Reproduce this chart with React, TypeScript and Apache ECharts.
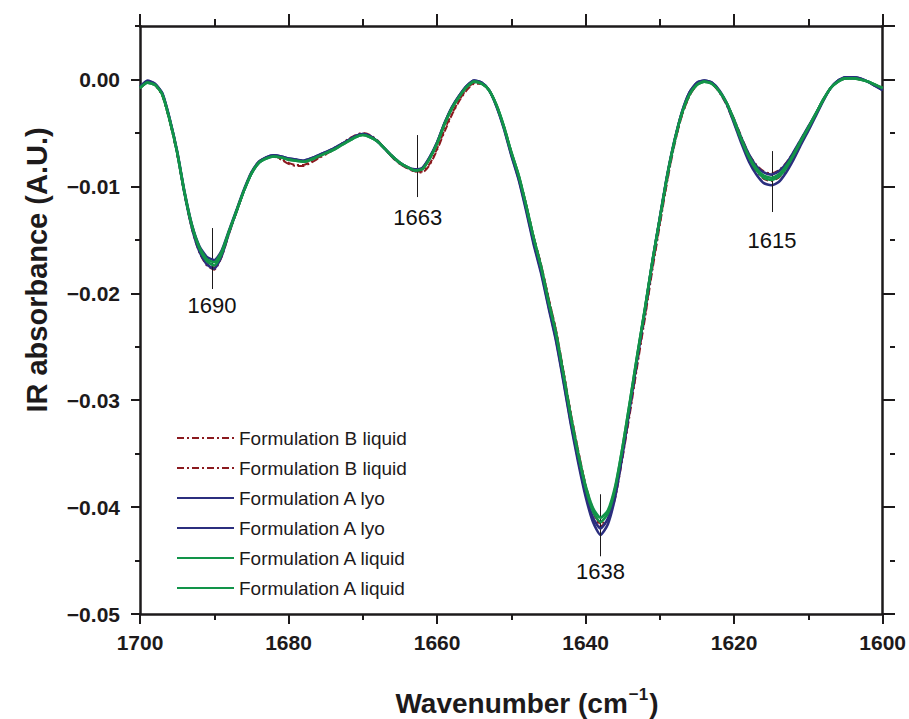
import React, { useEffect, useRef } from "react";
import * as echarts from "echarts";

const WAVENUMBERS = [
  1700, 1699, 1698, 1697, 1696, 1695, 1694, 1693, 1692, 1691,
  1690, 1689, 1688, 1687, 1686, 1685, 1684, 1683, 1682, 1681,
  1680, 1679, 1678, 1677, 1676, 1675, 1674, 1673, 1672, 1671,
  1670, 1669, 1668, 1667, 1666, 1665, 1664, 1663, 1662, 1661,
  1660, 1659, 1658, 1657, 1656, 1655, 1654, 1653, 1652, 1651,
  1650, 1649, 1648, 1647, 1646, 1645, 1644, 1643, 1642, 1641,
  1640, 1639, 1638, 1637, 1636, 1635, 1634, 1633, 1632, 1631,
  1630, 1629, 1628, 1627, 1626, 1625, 1624, 1623, 1622, 1621,
  1620, 1619, 1618, 1617, 1616, 1615, 1614, 1613, 1612, 1611,
  1610, 1609, 1608, 1607, 1606, 1605, 1604, 1603, 1602, 1601,
  1600,
];

const B_LIQUID_1 = [
  -0.0008, -0.0003, -0.0005, -0.0015, -0.0039, -0.007, -0.0108, -0.014, -0.0162, -0.0174,
  -0.0178, -0.0166, -0.0144, -0.0124, -0.0104, -0.0087, -0.0077, -0.0073, -0.0072, -0.0075,
  -0.0079, -0.0081, -0.0081, -0.0078, -0.0074, -0.007, -0.0066, -0.0061, -0.0056, -0.0052,
  -0.005, -0.0052, -0.0057, -0.0065, -0.0073, -0.0079, -0.0083, -0.0086, -0.0087, -0.008,
  -0.0066, -0.0049, -0.0033, -0.002, -0.001, -0.0004, -0.0004, -0.001, -0.0024, -0.0044,
  -0.0068, -0.009, -0.0117, -0.0147, -0.0173, -0.0204, -0.0234, -0.0272, -0.0312, -0.0347,
  -0.038, -0.0404, -0.0418, -0.0413, -0.0391, -0.0353, -0.0311, -0.0266, -0.0223, -0.0178,
  -0.0136, -0.0095, -0.006, -0.0033, -0.0015, -0.0005, -0.0002, -0.0004, -0.0011, -0.0022,
  -0.0037, -0.0054, -0.007, -0.008, -0.0086, -0.0088, -0.0085, -0.0078, -0.0068, -0.0056,
  -0.0044, -0.0032, -0.0019, -0.0008, -0.0002, 0.0001, 0.0001, 0.0, -0.0002, -0.0005,
  -0.0008,
];

const B_LIQUID_2 = [
  -0.0008, -0.0003, -0.0005, -0.0015, -0.0039, -0.0069, -0.0107, -0.0139, -0.016, -0.0172,
  -0.0176, -0.0165, -0.0143, -0.0124, -0.0104, -0.0087, -0.0077, -0.0073, -0.0072, -0.0074,
  -0.0078, -0.008, -0.008, -0.0077, -0.0073, -0.007, -0.0066, -0.0061, -0.0057, -0.0053,
  -0.0051, -0.0053, -0.0058, -0.0065, -0.0073, -0.0079, -0.0083, -0.0086, -0.0086, -0.0079,
  -0.0065, -0.0047, -0.0032, -0.0019, -0.0009, -0.0003, -0.0004, -0.001, -0.0024, -0.0044,
  -0.0068, -0.009, -0.0117, -0.0147, -0.0173, -0.0204, -0.0234, -0.0272, -0.0312, -0.0347,
  -0.0379, -0.0402, -0.0416, -0.0411, -0.0389, -0.0351, -0.0309, -0.0264, -0.0221, -0.0176,
  -0.0134, -0.0094, -0.0059, -0.0033, -0.0015, -0.0005, -0.0002, -0.0004, -0.0012, -0.0024,
  -0.0041, -0.0059, -0.0075, -0.0086, -0.0093, -0.0095, -0.0092, -0.0084, -0.0072, -0.0059,
  -0.0046, -0.0033, -0.002, -0.0008, -0.0002, 0.0001, 0.0001, 0.0, -0.0002, -0.0005,
  -0.0008,
];

const A_LYO_1 = [
  -0.0007, -0.0001, -0.0004, -0.0013, -0.0037, -0.0068, -0.0107, -0.0139, -0.0161, -0.0173,
  -0.0177, -0.0165, -0.0143, -0.0123, -0.0104, -0.0088, -0.0078, -0.0073, -0.0071, -0.0072,
  -0.0074, -0.0075, -0.0076, -0.0074, -0.0071, -0.0068, -0.0065, -0.0061, -0.0057, -0.0053,
  -0.0051, -0.0053, -0.0058, -0.0065, -0.0072, -0.0078, -0.0082, -0.0085, -0.0083, -0.0073,
  -0.0059, -0.0041, -0.0026, -0.0015, -0.0006, -0.0001, -0.0003, -0.001, -0.0025, -0.0046,
  -0.0071, -0.0094, -0.0123, -0.0154, -0.0181, -0.0213, -0.0244, -0.0282, -0.0322, -0.0358,
  -0.039, -0.0414, -0.0426, -0.0416, -0.039, -0.035, -0.0305, -0.0259, -0.0216, -0.0171,
  -0.013, -0.009, -0.0057, -0.003, -0.0012, -0.0003, -0.0001, -0.0003, -0.0011, -0.0023,
  -0.0041, -0.006, -0.0077, -0.0089, -0.0097, -0.0099, -0.0096, -0.0087, -0.0075, -0.0061,
  -0.0048, -0.0034, -0.002, -0.0008, -0.0001, 0.0002, 0.0002, 0.0001, -0.0002, -0.0006,
  -0.001,
];

const A_LYO_2 = [
  -0.0007, -0.0002, -0.0004, -0.0013, -0.0037, -0.0067, -0.0105, -0.0136, -0.0156, -0.0166,
  -0.0169, -0.016, -0.0141, -0.0122, -0.0103, -0.0087, -0.0077, -0.0073, -0.0071, -0.0072,
  -0.0074, -0.0075, -0.0076, -0.0074, -0.0071, -0.0068, -0.0065, -0.0061, -0.0057, -0.0053,
  -0.0051, -0.0053, -0.0058, -0.0065, -0.0072, -0.0078, -0.0082, -0.0084, -0.0083, -0.0073,
  -0.0059, -0.0041, -0.0026, -0.0015, -0.0006, -0.0001, -0.0003, -0.001, -0.0025, -0.0045,
  -0.007, -0.0093, -0.0121, -0.0152, -0.0179, -0.0211, -0.0242, -0.028, -0.032, -0.0355,
  -0.0387, -0.041, -0.042, -0.0411, -0.0386, -0.0347, -0.0303, -0.0258, -0.0215, -0.017,
  -0.0129, -0.0089, -0.0056, -0.003, -0.0012, -0.0003, -0.0001, -0.0003, -0.001, -0.0022,
  -0.0038, -0.0055, -0.007, -0.0081, -0.0087, -0.0089, -0.0086, -0.0079, -0.0068, -0.0056,
  -0.0044, -0.0032, -0.0019, -0.0008, -0.0001, 0.0002, 0.0002, 0.0001, -0.0002, -0.0006,
  -0.001,
];

const A_LIQUID_1 = [
  -0.0008, -0.0003, -0.0005, -0.0014, -0.0038, -0.0068, -0.0106, -0.0137, -0.0158, -0.017,
  -0.0174, -0.0163, -0.0142, -0.0123, -0.0104, -0.0088, -0.0078, -0.0074, -0.0072, -0.0073,
  -0.0075, -0.0076, -0.0077, -0.0075, -0.0072, -0.0069, -0.0066, -0.0062, -0.0058, -0.0054,
  -0.0052, -0.0054, -0.0058, -0.0065, -0.0072, -0.0078, -0.0082, -0.0085, -0.0084, -0.0074,
  -0.006, -0.0042, -0.0027, -0.0016, -0.0007, -0.0002, -0.0004, -0.001, -0.0024, -0.0044,
  -0.0068, -0.009, -0.0118, -0.0148, -0.0175, -0.0207, -0.0237, -0.0275, -0.0315, -0.035,
  -0.0382, -0.0404, -0.0414, -0.0406, -0.0382, -0.0343, -0.03, -0.0256, -0.0214, -0.017,
  -0.013, -0.009, -0.0057, -0.0031, -0.0014, -0.0005, -0.0002, -0.0004, -0.0011, -0.0022,
  -0.0038, -0.0056, -0.0072, -0.0083, -0.009, -0.0092, -0.0089, -0.0081, -0.007, -0.0057,
  -0.0045, -0.0032, -0.0019, -0.0008, -0.0002, 0.0001, 0.0001, 0.0, -0.0002, -0.0005,
  -0.0008,
];

const A_LIQUID_2 = [
  -0.0008, -0.0003, -0.0005, -0.0014, -0.0038, -0.0068, -0.0106, -0.0137, -0.0157, -0.0168,
  -0.0171, -0.0161, -0.0142, -0.0123, -0.0104, -0.0088, -0.0078, -0.0074, -0.0072, -0.0073,
  -0.0075, -0.0076, -0.0077, -0.0075, -0.0072, -0.0069, -0.0066, -0.0062, -0.0058, -0.0054,
  -0.0052, -0.0054, -0.0058, -0.0065, -0.0072, -0.0078, -0.0082, -0.0085, -0.0084, -0.0074,
  -0.006, -0.0042, -0.0027, -0.0016, -0.0007, -0.0002, -0.0004, -0.001, -0.0024, -0.0044,
  -0.0068, -0.009, -0.0118, -0.0148, -0.0175, -0.0207, -0.0237, -0.0275, -0.0315, -0.035,
  -0.038, -0.0401, -0.041, -0.0403, -0.038, -0.0343, -0.03, -0.0256, -0.0214, -0.017,
  -0.013, -0.009, -0.0057, -0.0031, -0.0014, -0.0005, -0.0002, -0.0004, -0.0011, -0.0022,
  -0.0039, -0.0057, -0.0073, -0.0085, -0.0092, -0.0094, -0.0091, -0.0083, -0.0071, -0.0058,
  -0.0045, -0.0032, -0.0019, -0.0008, -0.0002, 0.0001, 0.0001, 0.0, -0.0002, -0.0005,
  -0.0008,
];

const SERIES_KEYS = ["B1", "B2", "L1", "L2", "G1", "G2"];
const SERIES_LABELS = [
  "Formulation B liquid",
  "Formulation B liquid",
  "Formulation A lyo",
  "Formulation A lyo",
  "Formulation A liquid",
  "Formulation A liquid",
];
const SERIES_VALUES = [B_LIQUID_1, B_LIQUID_2, A_LYO_1, A_LYO_2, A_LIQUID_1, A_LIQUID_2];

// peak annotations
const PEAK_LABELS = ["1690", "1663", "1638", "1615"];
const PEAK_POS = [1690.3, 1662.6, 1638.0, 1614.9];
const PEAK_LINE_TOP = [-0.0139, -0.0052, -0.0388, -0.0067];
const PEAK_LINE_BOTTOM = [-0.0196, -0.011, -0.0446, -0.0124];
const PEAK_LABEL_Y = [-0.0211, -0.0129, -0.046, -0.0151];

const X_TICK_MIN = 1600;
const X_TICK_MAX = 1700;
const Y_TICK_MIN = -0.05;
const Y_TICK_MAX = 0.005;

const COLORS = ["#8b1a1f", "#8b1a1f", "#2b2e7e", "#2b2e7e", "#129449", "#129449"];
const FONT = "'Liberation Sans', Arial, Helvetica, sans-serif";
const INK = "#1d1a1b";

export default function App() {
  const ref = useRef<HTMLDivElement>(null);

  useEffect(() => {
    if (!ref.current) return;
    const chart = echarts.init(ref.current, undefined, { renderer: "svg" });

    const gridBox = { left: 140, right: 19, top: 26, bottom: 105 };
    const axisLine = { show: true, onZero: false, lineStyle: { color: INK, width: 2.5 } };

    const series: any[] = SERIES_KEYS.map((key, i) => ({
      name: key,
      type: "line",
      xAxisIndex: 0,
      yAxisIndex: 0,
      showSymbol: false,
      symbol: "none",
      smooth: 0.2,
      lineStyle: {
        color: COLORS[i],
        width: i < 2 ? 2 : 2.6,
        type: i < 2 ? [7, 3, 2, 3] : "solid",
      },
      itemStyle: { color: COLORS[i] },
      data: WAVENUMBERS.map((w, j) => [w, SERIES_VALUES[i][j]]),
      z: 2 + i,
    }));

    series[5].markLine = {
      silent: true,
      symbol: ["none", "none"],
      label: { show: false },
      lineStyle: { color: INK, width: 1, type: "solid" },
      data: PEAK_POS.map((p, k) => [
        { coord: [p, PEAK_LINE_TOP[k]] },
        { coord: [p, PEAK_LINE_BOTTOM[k]] },
      ]),
    };

    series.push({
      name: "peaks",
      type: "scatter",
      xAxisIndex: 0,
      yAxisIndex: 0,
      symbolSize: 1,
      itemStyle: { color: "rgba(0,0,0,0)" },
      silent: true,
      z: 10,
      label: {
        show: true,
        position: "inside",
        formatter: (p: any) => PEAK_LABELS[p.dataIndex],
        fontSize: 22,
        fontFamily: FONT,
        color: "#111111",
        opacity: 1,
      },
      data: PEAK_POS.map((p, k) => [p, PEAK_LABEL_Y[k]]),
    });

    const labelMap: Record<string, string> = {};
    SERIES_KEYS.forEach((k, i) => (labelMap[k] = SERIES_LABELS[i]));

    const yFmt = (v: number) => {
      if (v > 0.0001) return "";
      if (Math.abs(v) < 1e-9) return "0.00";
      return "\u2212" + Math.abs(v).toFixed(2);
    };

    const option: any = {
      animation: false,
      backgroundColor: "#ffffff",
      grid: [
        { ...gridBox, containLabel: false },
        { ...gridBox, containLabel: false },
      ],
      legend: {
        orient: "vertical",
        left: 176,
        top: 428,
        padding: 0,
        itemWidth: 57,
        itemHeight: 14,
        itemGap: 10,
        data: SERIES_KEYS,
        formatter: (name: string) => labelMap[name],
        itemStyle: { opacity: 0, borderWidth: 0 },
        textStyle: { fontSize: 19, lineHeight: 20, color: INK, fontFamily: FONT },
      },
      xAxis: [
        {
          type: "value",
          gridIndex: 0,
          position: "bottom",
          min: X_TICK_MIN,
          max: X_TICK_MAX,
          interval: 20,
          inverse: true,
          axisLine,
          axisTick: { show: true, inside: false, length: 10, lineStyle: { color: INK, width: 2 } },
          minorTick: { show: true, splitNumber: 2, length: 6, lineStyle: { color: INK, width: 2 } },
          axisLabel: {
            margin: 18,
            fontSize: 21,
            fontWeight: "bold",
            color: INK,
            fontFamily: FONT,
            formatter: (v: number) => String(v),
          },
          splitLine: { show: false },
          minorSplitLine: { show: false },
        },
        {
          type: "value",
          gridIndex: 0,
          position: "top",
          min: X_TICK_MIN,
          max: X_TICK_MAX,
          interval: 20,
          inverse: true,
          axisLine,
          axisTick: { show: true, inside: false, length: 12, lineStyle: { color: INK, width: 2 } },
          minorTick: { show: true, splitNumber: 2, length: 7, lineStyle: { color: INK, width: 2 } },
          axisLabel: { show: false },
          splitLine: { show: false },
        },
        {
          type: "value",
          gridIndex: 1,
          min: X_TICK_MIN,
          max: X_TICK_MAX,
          inverse: true,
          show: false,
        },
      ],
      yAxis: [
        {
          type: "value",
          gridIndex: 0,
          position: "left",
          min: Y_TICK_MIN,
          max: Y_TICK_MAX,
          interval: 0.01,
          axisLine,
          axisTick: { show: true, inside: false, length: 9, lineStyle: { color: INK, width: 2 } },
          axisLabel: {
            margin: 20,
            fontSize: 21,
            fontWeight: "bold",
            color: INK,
            fontFamily: FONT,
            formatter: yFmt,
            showMaxLabel: false,
          },
          splitLine: { show: false },
        },
        {
          type: "value",
          gridIndex: 0,
          position: "right",
          min: Y_TICK_MIN,
          max: Y_TICK_MAX,
          interval: 0.01,
          axisLine,
          axisTick: { show: true, inside: false, length: 9, lineStyle: { color: INK, width: 2 } },
          axisLabel: { show: false },
          splitLine: { show: false },
        },
        {
          type: "value",
          gridIndex: 1,
          position: "left",
          min: Y_TICK_MIN,
          max: Y_TICK_MAX,
          interval: 0.005,
          axisLine: { show: false },
          axisTick: { show: true, inside: false, length: 5, lineStyle: { color: INK, width: 2 } },
          axisLabel: { show: false },
          splitLine: { show: false },
        },
        {
          type: "value",
          gridIndex: 1,
          position: "right",
          min: Y_TICK_MIN,
          max: Y_TICK_MAX,
          interval: 0.005,
          axisLine: { show: false },
          axisTick: { show: true, inside: false, length: 5, lineStyle: { color: INK, width: 2 } },
          axisLabel: { show: false },
          splitLine: { show: false },
        },
      ],
      graphic: [
        {
          type: "text",
          x: 527,
          y: 703,
          style: {
            text: "{a|Wavenumber (cm}{s|\u22121}{a|)}",
            align: "center",
            verticalAlign: "middle",
            fill: INK,
            rich: {
              a: { fontSize: 28, fontWeight: "bold", fontFamily: FONT, fill: INK, lineHeight: 34 },
              s: {
                fontSize: 17,
                fontWeight: "bold",
                fontFamily: FONT,
                fill: INK,
                lineHeight: 34,
                verticalAlign: "top",
                padding: [0, 1, 0, 1],
              },
            },
          },
        },
        {
          type: "text",
          x: 37,
          y: 270,
          rotation: Math.PI / 2,
          style: {
            text: "IR absorbance (A.U.)",
            align: "center",
            verticalAlign: "middle",
            fontSize: 29,
            fontWeight: "bold",
            fontFamily: FONT,
            fill: INK,
          },
        },
      ],
      series,
    };

    chart.setOption(option);
    return () => chart.dispose();
  }, []);

  return (
    <div
      ref={ref}
      style={{ position: "fixed", left: 0, top: 0, width: 909, height: 719, background: "#fff" }}
    />
  );
}
